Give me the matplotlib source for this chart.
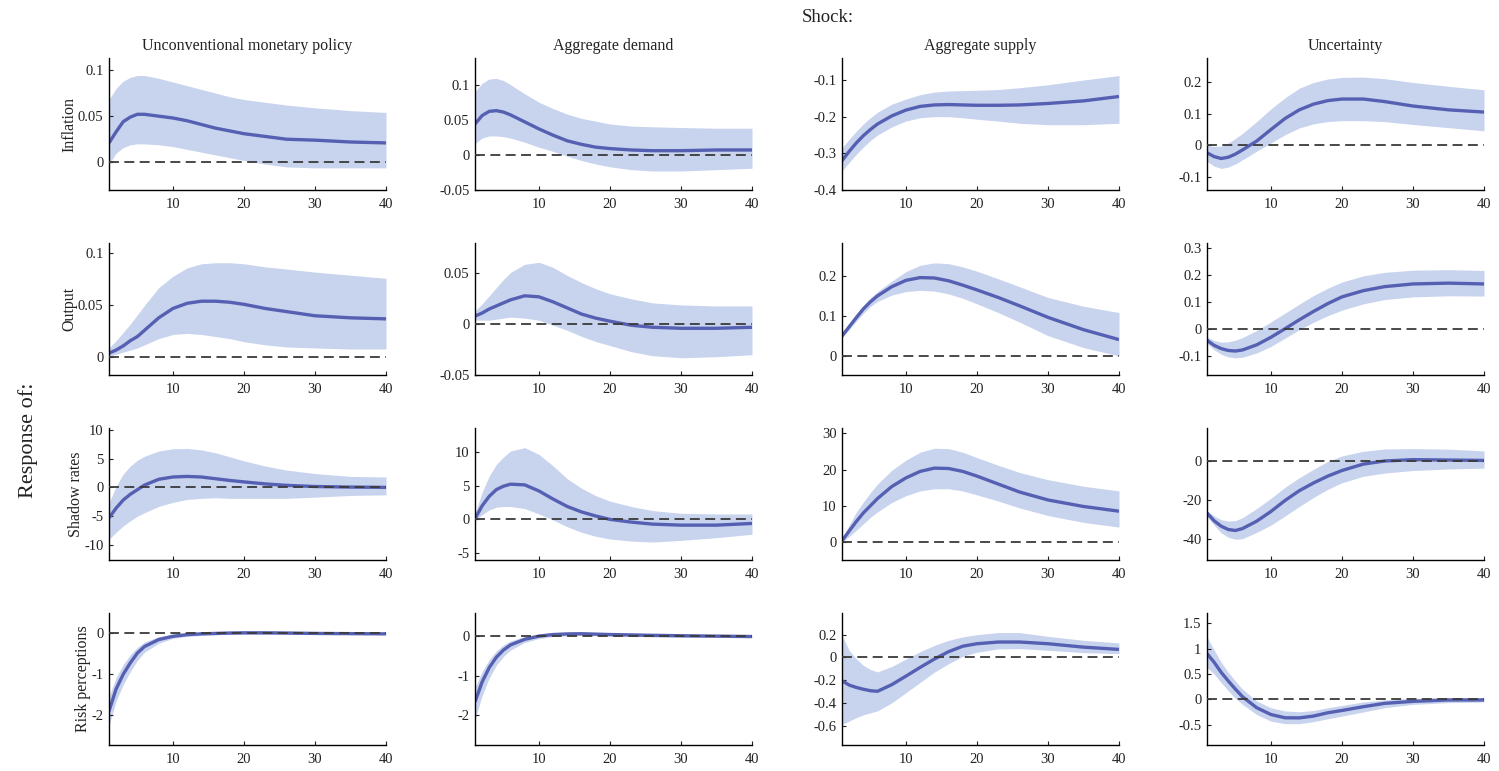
import matplotlib
matplotlib.use("Agg")
import matplotlib.pyplot as plt
from matplotlib.ticker import FuncFormatter

plt.rcParams['font.family'] = ['Liberation Serif', 'DejaVu Serif']

h = [1, 2, 3, 4, 5, 6, 8, 10, 12, 14, 16, 18, 20, 23, 26, 30, 35, 40]

shocks = ["Unconventional monetary policy", "Aggregate demand", "Aggregate supply", "Uncertainty"]
variables = ["Inflation", "Output", "Shadow rates", "Risk perceptions"]

# ---- Inflation ----
inf_ump_med = [0.021, 0.033, 0.044, 0.049, 0.052, 0.052, 0.050, 0.048, 0.045, 0.041, 0.037, 0.034, 0.031, 0.028, 0.025, 0.024, 0.022, 0.021]
inf_ump_up = [0.068, 0.080, 0.088, 0.092, 0.094, 0.094, 0.091, 0.087, 0.083, 0.079, 0.075, 0.071, 0.068, 0.065, 0.062, 0.059, 0.056, 0.054]
inf_ump_lo = [-0.002, 0.010, 0.016, 0.019, 0.020, 0.020, 0.019, 0.017, 0.014, 0.011, 0.008, 0.005, 0.002, -0.002, -0.005, -0.006, -0.006, -0.006]

inf_ad_med = [0.044, 0.056, 0.062, 0.063, 0.061, 0.057, 0.047, 0.037, 0.028, 0.020, 0.015, 0.011, 0.009, 0.007, 0.006, 0.006, 0.007, 0.007]
inf_ad_up = [0.090, 0.102, 0.108, 0.109, 0.106, 0.100, 0.087, 0.075, 0.066, 0.058, 0.052, 0.048, 0.044, 0.041, 0.040, 0.039, 0.038, 0.038]
inf_ad_lo = [0.016, 0.024, 0.027, 0.027, 0.026, 0.024, 0.018, 0.011, 0.005, -0.002, -0.008, -0.013, -0.017, -0.021, -0.023, -0.023, -0.021, -0.019]

inf_as_med = [-0.320, -0.295, -0.272, -0.252, -0.235, -0.220, -0.198, -0.182, -0.172, -0.168, -0.167, -0.168, -0.169, -0.169, -0.168, -0.164, -0.157, -0.145]
inf_as_up = [-0.285, -0.262, -0.240, -0.220, -0.203, -0.188, -0.166, -0.152, -0.140, -0.133, -0.130, -0.129, -0.128, -0.126, -0.121, -0.113, -0.100, -0.088]
inf_as_lo = [-0.348, -0.325, -0.303, -0.283, -0.265, -0.250, -0.228, -0.212, -0.203, -0.200, -0.200, -0.203, -0.207, -0.212, -0.218, -0.222, -0.222, -0.218]

inf_unc_med = [-0.023, -0.035, -0.041, -0.037, -0.027, -0.014, 0.014, 0.050, 0.085, 0.112, 0.130, 0.141, 0.146, 0.146, 0.138, 0.124, 0.112, 0.105]
inf_unc_up = [0.000, -0.003, -0.002, 0.008, 0.022, 0.038, 0.075, 0.115, 0.150, 0.180, 0.198, 0.209, 0.214, 0.215, 0.210, 0.198, 0.186, 0.175]
inf_unc_lo = [-0.050, -0.065, -0.072, -0.068, -0.058, -0.045, -0.018, 0.008, 0.034, 0.055, 0.068, 0.075, 0.078, 0.078, 0.075, 0.066, 0.056, 0.046]

# ---- Output ----
out_ump_med = [0.004, 0.007, 0.011, 0.016, 0.020, 0.026, 0.038, 0.047, 0.052, 0.054, 0.054, 0.053, 0.051, 0.047, 0.044, 0.040, 0.038, 0.037]
out_ump_up = [0.009, 0.016, 0.024, 0.032, 0.041, 0.050, 0.067, 0.078, 0.086, 0.090, 0.091, 0.091, 0.090, 0.087, 0.085, 0.082, 0.079, 0.076]
out_ump_lo = [0.001, 0.003, 0.005, 0.007, 0.009, 0.012, 0.018, 0.022, 0.023, 0.022, 0.020, 0.018, 0.015, 0.012, 0.010, 0.009, 0.008, 0.008]

out_ad_med = [0.008, 0.011, 0.015, 0.018, 0.021, 0.024, 0.028, 0.027, 0.022, 0.016, 0.010, 0.006, 0.003, -0.001, -0.003, -0.004, -0.004, -0.003]
out_ad_up = [0.013, 0.020, 0.028, 0.036, 0.044, 0.051, 0.059, 0.061, 0.056, 0.048, 0.041, 0.035, 0.030, 0.025, 0.021, 0.019, 0.018, 0.018]
out_ad_lo = [0.004, 0.004, 0.004, 0.005, 0.006, 0.007, 0.006, 0.004, -0.001, -0.006, -0.012, -0.017, -0.021, -0.027, -0.031, -0.033, -0.032, -0.030]

out_as_med = [0.050, 0.073, 0.096, 0.118, 0.136, 0.151, 0.174, 0.190, 0.197, 0.196, 0.189, 0.178, 0.166, 0.147, 0.126, 0.097, 0.066, 0.041]
out_as_up = [0.054, 0.080, 0.105, 0.127, 0.146, 0.162, 0.188, 0.212, 0.228, 0.234, 0.232, 0.224, 0.213, 0.194, 0.174, 0.147, 0.125, 0.109]
out_as_lo = [0.046, 0.066, 0.087, 0.107, 0.124, 0.137, 0.153, 0.162, 0.165, 0.163, 0.156, 0.145, 0.131, 0.109, 0.085, 0.051, 0.021, 0.000]

out_unc_med = [-0.041, -0.060, -0.072, -0.079, -0.081, -0.077, -0.058, -0.030, 0.002, 0.035, 0.066, 0.095, 0.120, 0.143, 0.158, 0.168, 0.171, 0.168]
out_unc_up = [-0.029, -0.042, -0.048, -0.047, -0.041, -0.031, -0.005, 0.027, 0.060, 0.093, 0.125, 0.152, 0.175, 0.198, 0.211, 0.219, 0.221, 0.218]
out_unc_lo = [-0.053, -0.076, -0.093, -0.103, -0.106, -0.104, -0.088, -0.064, -0.033, -0.002, 0.026, 0.050, 0.071, 0.094, 0.110, 0.120, 0.124, 0.123]

# ---- Shadow rates ----
sr_ump_med = [-5.3, -3.6, -2.2, -1.2, -0.4, 0.4, 1.4, 1.8, 1.9, 1.8, 1.5, 1.2, 0.95, 0.6, 0.35, 0.15, 0.05, 0.0]
sr_ump_up = [-2.7, 0.2, 2.3, 3.7, 4.7, 5.4, 6.3, 6.7, 6.75, 6.5, 6.0, 5.3, 4.6, 3.7, 3.0, 2.4, 1.9, 1.8]
sr_ump_lo = [-9.0, -7.8, -6.7, -5.8, -5.0, -4.4, -3.3, -2.6, -2.1, -1.9, -1.8, -1.9, -1.9, -1.9, -1.9, -1.7, -1.4, -1.3]

sr_ad_med = [0.1, 2.0, 3.4, 4.4, 4.9, 5.2, 5.1, 4.2, 3.0, 1.9, 1.1, 0.5, 0.0, -0.4, -0.7, -0.85, -0.85, -0.6]
sr_ad_up = [0.9, 4.0, 6.4, 8.1, 9.2, 10.1, 10.6, 9.6, 7.9, 6.0, 4.6, 3.5, 2.7, 1.9, 1.3, 0.9, 0.8, 0.8]
sr_ad_lo = [-0.2, 0.7, 1.4, 1.8, 1.9, 1.9, 1.6, 0.8, -0.1, -1.1, -1.9, -2.5, -2.9, -3.2, -3.35, -3.1, -2.7, -2.2]

sr_as_med = [0.3, 3.0, 5.6, 8.0, 10.0, 12.0, 15.3, 17.7, 19.5, 20.4, 20.3, 19.5, 18.2, 16.0, 13.8, 11.6, 9.8, 8.5]
sr_as_up = [0.8, 4.6, 8.2, 11.0, 13.6, 16.0, 19.8, 22.6, 24.8, 25.9, 25.8, 24.8, 23.3, 21.2, 19.2, 17.2, 15.4, 14.1]
sr_as_lo = [0.0, 1.5, 3.2, 5.0, 6.8, 8.3, 10.9, 12.8, 14.1, 14.7, 14.7, 14.1, 13.0, 11.3, 9.4, 7.3, 5.4, 4.1]

sr_unc_med = [-26.8, -30.8, -33.6, -35.3, -35.8, -34.8, -31.0, -26.0, -20.3, -15.3, -11.3, -7.8, -4.9, -1.6, 0.0, 0.7, 0.5, 0.3]
sr_unc_up = [-25.6, -28.3, -30.2, -30.9, -30.7, -29.2, -24.5, -19.2, -13.5, -8.6, -4.3, -0.2, 2.6, 5.0, 6.2, 6.4, 6.1, 5.2]
sr_unc_lo = [-28.5, -33.0, -37.0, -39.3, -40.3, -40.0, -36.8, -33.0, -28.3, -23.4, -18.8, -14.6, -11.2, -7.9, -6.2, -4.9, -4.1, -3.7]

# ---- Risk perceptions ----
rp_ump_med = [-1.90, -1.36, -1.00, -0.72, -0.48, -0.32, -0.15, -0.07, -0.03, -0.01, 0.0, 0.01, 0.015, 0.015, 0.01, 0.0, -0.005, -0.01]
rp_ump_up = [-1.55, -1.08, -0.76, -0.52, -0.34, -0.21, -0.08, -0.02, 0.01, 0.03, 0.035, 0.04, 0.04, 0.035, 0.03, 0.02, 0.015, 0.01]
rp_ump_lo = [-2.25, -1.65, -1.25, -0.93, -0.66, -0.46, -0.24, -0.12, -0.07, -0.05, -0.035, -0.025, -0.02, -0.02, -0.02, -0.025, -0.03, -0.03]

rp_ad_med = [-1.66, -1.16, -0.80, -0.54, -0.36, -0.23, -0.09, -0.01, 0.03, 0.045, 0.05, 0.04, 0.03, 0.02, 0.01, 0.0, -0.01, -0.02]
rp_ad_up = [-1.30, -0.90, -0.60, -0.38, -0.23, -0.13, -0.02, 0.04, 0.075, 0.09, 0.09, 0.08, 0.07, 0.06, 0.05, 0.04, 0.03, 0.03]
rp_ad_lo = [-2.10, -1.50, -1.06, -0.74, -0.52, -0.36, -0.17, -0.07, -0.02, 0.0, 0.005, 0.0, -0.01, -0.02, -0.03, -0.035, -0.045, -0.05]

rp_as_med = [-0.205, -0.243, -0.264, -0.280, -0.293, -0.298, -0.240, -0.165, -0.088, -0.015, 0.050, 0.098, 0.120, 0.135, 0.135, 0.120, 0.090, 0.070]
rp_as_up = [0.195, 0.062, -0.012, -0.070, -0.107, -0.128, -0.080, -0.015, 0.050, 0.105, 0.150, 0.180, 0.200, 0.218, 0.218, 0.185, 0.150, 0.127]
rp_as_lo = [-0.590, -0.560, -0.530, -0.505, -0.487, -0.470, -0.400, -0.310, -0.220, -0.130, -0.056, 0.010, 0.045, 0.075, 0.077, 0.062, 0.042, 0.033]

rp_unc_med = [0.90, 0.73, 0.53, 0.36, 0.20, 0.05, -0.166, -0.30, -0.364, -0.366, -0.33, -0.265, -0.22, -0.146, -0.08, -0.04, -0.013, -0.013]
rp_unc_up = [1.23, 0.97, 0.73, 0.53, 0.36, 0.20, -0.033, -0.166, -0.23, -0.245, -0.22, -0.166, -0.12, -0.053, -0.013, 0.02, 0.033, 0.033]
rp_unc_lo = [0.63, 0.50, 0.33, 0.166, 0.02, -0.10, -0.30, -0.43, -0.48, -0.48, -0.44, -0.384, -0.33, -0.25, -0.166, -0.10, -0.066, -0.053]

panels = [
    [(inf_ump_med, inf_ump_lo, inf_ump_up), (inf_ad_med, inf_ad_lo, inf_ad_up),
     (inf_as_med, inf_as_lo, inf_as_up), (inf_unc_med, inf_unc_lo, inf_unc_up)],
    [(out_ump_med, out_ump_lo, out_ump_up), (out_ad_med, out_ad_lo, out_ad_up),
     (out_as_med, out_as_lo, out_as_up), (out_unc_med, out_unc_lo, out_unc_up)],
    [(sr_ump_med, sr_ump_lo, sr_ump_up), (sr_ad_med, sr_ad_lo, sr_ad_up),
     (sr_as_med, sr_as_lo, sr_as_up), (sr_unc_med, sr_unc_lo, sr_unc_up)],
    [(rp_ump_med, rp_ump_lo, rp_ump_up), (rp_ad_med, rp_ad_lo, rp_ad_up),
     (rp_as_med, rp_as_lo, rp_as_up), (rp_unc_med, rp_unc_lo, rp_unc_up)],
]

ylims = [
    [(-0.03, 0.113), (-0.05, 0.138), (-0.4, -0.04), (-0.14, 0.275)],
    [(-0.017, 0.11), (-0.05, 0.08), (-0.048, 0.284), (-0.17, 0.32)],
    [(-12.6, 10.3), (-6, 13.5), (-5, 31.5), (-51, 17)],
    [(-2.73, 0.5), (-2.74, 0.57), (-0.77, 0.39), (-0.9, 1.7)],
]
yticks = [
    [[0, 0.05, 0.1], [-0.05, 0, 0.05, 0.1], [-0.4, -0.3, -0.2, -0.1], [-0.1, 0, 0.1, 0.2]],
    [[0, 0.05, 0.1], [-0.05, 0, 0.05], [0, 0.1, 0.2], [-0.1, 0, 0.1, 0.2, 0.3]],
    [[-10, -5, 0, 5, 10], [-5, 0, 5, 10], [0, 10, 20, 30], [-40, -20, 0]],
    [[-2, -1, 0], [-2, -1, 0], [-0.6, -0.4, -0.2, 0, 0.2], [-0.5, 0, 0.5, 1, 1.5]],
]

W, H = 1499, 771
fig = plt.figure(figsize=(W / 100, H / 100), dpi=100)

col_left = [109, 475, 842, 1207]
row_top = [58, 243, 428, 613]
ax_w, ax_h = 277, 132

line_col = '#5660b2'
band_col = '#c8d3ee'
fmt = FuncFormatter(lambda v, p: ('%g' % v).replace('\u2212', '-'))

for i in range(4):
    for j in range(4):
        ax = fig.add_axes([col_left[j] / W, 1 - (row_top[i] + ax_h) / H, ax_w / W, ax_h / H])
        med, lo, up = panels[i][j]
        ax.fill_between(h, lo, up, color=band_col, lw=0, zorder=1)
        ax.plot(h, med, color=line_col, lw=2.4, zorder=2, solid_capstyle='butt')
        ax.axhline(0, color='#3a3a3a', lw=1.3, ls=(0, (5.5, 3)), zorder=3)
        ax.set_xlim(1, 40)
        ax.set_ylim(*ylims[i][j])
        ax.set_xticks([10, 20, 30, 40])
        ax.set_yticks(yticks[i][j])
        ax.yaxis.set_major_formatter(fmt)
        ax.spines['top'].set_visible(False)
        ax.spines['right'].set_visible(False)
        for s in ['left', 'bottom']:
            ax.spines[s].set_linewidth(1.0)
        ax.tick_params(direction='in', length=3, width=0.8, labelsize=10.5, colors='#222222')
        ax.tick_params(axis='x', pad=6)
        ax.tick_params(axis='y', pad=4)
        if j == 0:
            ax.set_ylabel(variables[i], fontsize=11.5, color='#222222', labelpad=0)
        if i == 0:
            ax.set_title(shocks[j], fontsize=11.5, color='#222222', pad=6)

fig.text(828 / W, 1 - 18 / H, "Shock:", fontsize=13.5, ha='center', va='center', color='#222222')
fig.text(28 / W, 1 - 440 / H, "Response of:", fontsize=16, rotation=90, ha='center', va='center', color='#222222')

fig.savefig("out.png", dpi=100)
